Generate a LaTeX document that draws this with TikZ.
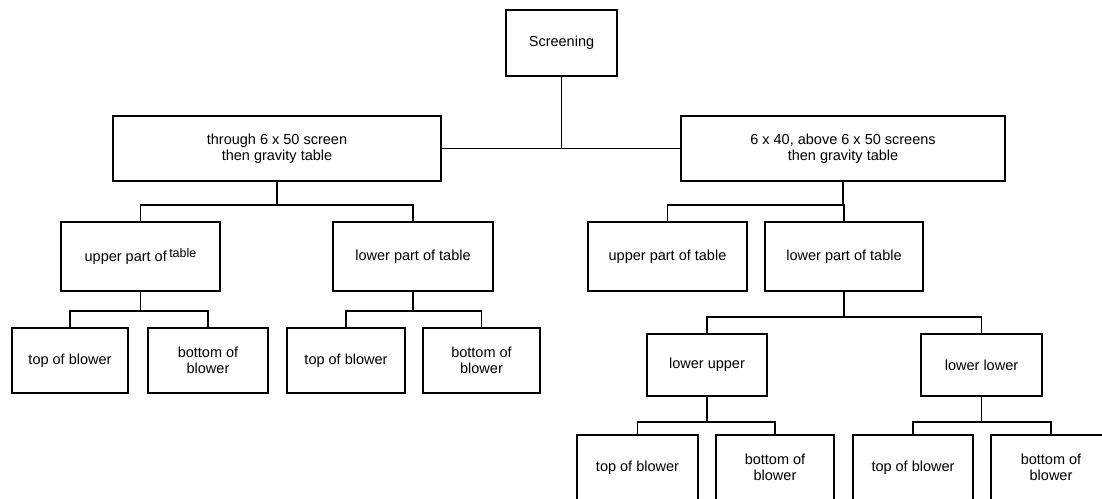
\documentclass[tikz,border=0pt]{standalone}
\usepackage{fontspec}
\setmainfont{Liberation Sans}
\begin{document}
\begin{tikzpicture}[x=1pt,y=-1pt,
  box/.style={draw, line width=1.5pt, align=center, inner sep=0pt,
    font=\fontsize{14.5}{15.5}\selectfont},
  link/.style={line width=1.5pt}]
\useasboundingbox (0,0) rectangle (1102,498);
% level 0
\node[box, minimum width=111pt, minimum height=66pt] (scr) at (561.5,43) {Screening};
% level 1
\node[box, minimum width=328pt, minimum height=65pt] (La) at (277,148.5) {through 6 x 50 screen\\then gravity table};
\node[box, minimum width=324pt, minimum height=65pt] (Lb) at (843,148.5) {6 x 40, above 6 x 50 screens\\then gravity table};
% level 2
\node[box, minimum width=159pt, minimum height=69pt] (ul) at (140.5,256.5) {upper part of\,\raisebox{0.55ex}{\fontsize{12.5}{13}\selectfont table}};
\node[box, minimum width=160pt, minimum height=69pt] (ll) at (413,256.5) {lower part of table};
\node[box, minimum width=159pt, minimum height=69pt] (ru) at (667.5,256.5) {upper part of table};
\node[box, minimum width=158pt, minimum height=69pt] (rl) at (844,256.5) {lower part of table};
% level 3 left
\node[box, minimum width=116pt, minimum height=65pt] (a1) at (70,360.5) {top of blower};
\node[box, minimum width=120pt, minimum height=65pt] (a2) at (208,360.5) {bottom of\\blower};
\node[box, minimum width=118pt, minimum height=65pt] (b1) at (346,360.5) {top of blower};
\node[box, minimum width=117pt, minimum height=65pt] (b2) at (481.5,360.5) {bottom of\\blower};
% level 3 right
\node[box, minimum width=120pt, minimum height=62pt] (lu) at (707,365) {lower upper};
\node[box, minimum width=121pt, minimum height=62pt] (lw) at (981.5,365) {lower lower};
% level 4
\node[box, minimum width=121pt, minimum height=65pt] (c1) at (637.5,467.5) {top of blower};
\node[box, minimum width=118pt, minimum height=65pt] (c2) at (775,467.5) {bottom of\\blower};
\node[box, minimum width=120pt, minimum height=65pt] (d1) at (913,467.5) {top of blower};
\node[box, minimum width=120pt, minimum height=65pt] (d2) at (1051,467.5) {bottom of\\blower};
% bus coordinates
\coordinate (j1) at (0,205);
\coordinate (j2) at (0,311);
\coordinate (j3) at (0,317);
\coordinate (j4) at (0,422);
% connectors
\draw[link] (La.east) -- (Lb.west);
\draw[link] (scr.south) -- (scr.south |- La.east);
\draw[link] (La.south) -- (La.south |- j1);
\draw[link] (ul.north) -- (ul.north |- j1) -- (ll.north |- j1) -- (ll.north);
\draw[link] (Lb.south) -- (Lb.south |- j1);
\draw[link] (ru.north) -- (ru.north |- j1) -- (rl.north |- j1) -- (rl.north);
\draw[link] (ul.south) -- (ul.south |- j2);
\draw[link] (a1.north) -- (a1.north |- j2) -- (a2.north |- j2) -- (a2.north);
\draw[link] (ll.south) -- (ll.south |- j2);
\draw[link] (b1.north) -- (b1.north |- j2) -- (b2.north |- j2) -- (b2.north);
\draw[link] (rl.south) -- (rl.south |- j3);
\draw[link] (lu.north) -- (lu.north |- j3) -- (lw.north |- j3) -- (lw.north);
\draw[link] (lu.south) -- (lu.south |- j4);
\draw[link] (c1.north) -- (c1.north |- j4) -- (c2.north |- j4) -- (c2.north);
\draw[link] (lw.south) -- (lw.south |- j4);
\draw[link] (d1.north) -- (d1.north |- j4) -- (d2.north |- j4) -- (d2.north);
\end{tikzpicture}
\end{document}
